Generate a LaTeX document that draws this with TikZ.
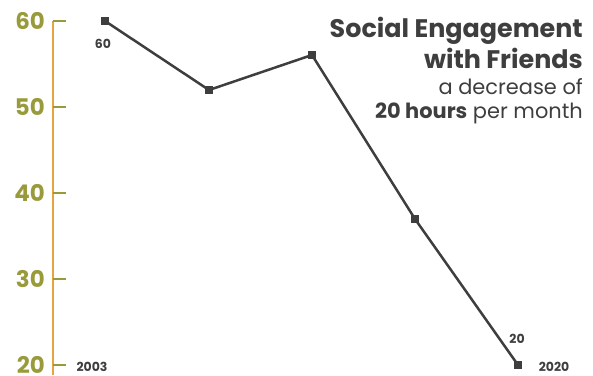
\documentclass[tikz,border=0pt]{standalone}
\usepackage{fontspec}
\setmainfont{Poppins}
\usetikzlibrary{positioning}
\definecolor{axisorange}{HTML}{E6A541}
\definecolor{axisgreen}{HTML}{999B3B}
\definecolor{inkgray}{HTML}{3E3E3E}

\begin{document}
\begin{tikzpicture}[x=1bp, y=-1bp]
    \tikzstyle{every node} = [inner sep=0pt, text=inkgray]
    \tikzstyle{tick} = [text=axisgreen, font=\bfseries\fontsize{23}{23}\selectfont, anchor=east]
    \tikzstyle{pt} = [rectangle, fill=inkgray, minimum size=7.5bp]
    \tikzstyle{val} = [font=\bfseries\fontsize{12.5}{12.5}\selectfont]
    \useasboundingbox (0,0) rectangle (593,375);

    \draw [axisorange, line width=1.3bp] (53,21) -- (53,375);
    \foreach \v/\y in {60/21, 50/107, 40/193, 30/279, 20/365} {
      \draw [axisgreen, line width=1.3bp] (53,\y) -- (66,\y);
      \node [tick] (t\v) at (45,\y) {\v};
    }

    \node [pt] (p1) at (105,21) {};
    \node [pt] (p2) at (209,90) {};
    \node [pt] (p3) at (312,55) {};
    \node [pt] (p4) at (415,219) {};
    \node [pt] (p5) at (518,365) {};
    \draw [inkgray, line width=2.5bp] (p1.center) -- (p2.center) -- (p3.center)
      -- (p4.center) -- (p5.center);

    \node [val] (v60) at (103,44) {60};
    \node [val] (v20) at (517,339) {20};
    \node [val] (y03) at (92,367) {2003};
    \node [val] (y20) at (554,367) {2020};

    \node [anchor=base east, font=\bfseries\fontsize{25.5}{25.5}\selectfont] (title1) at (583,37) {Social Engagement};
    \node [anchor=base east, font=\bfseries\fontsize{25.5}{25.5}\selectfont] (title2) at (583,68) {with Friends};
    \node [anchor=base east, font=\fontsize{21}{21}\selectfont] (sub1) at (583,94) {a decrease of};
    \node [anchor=base east, font=\fontsize{21}{21}\selectfont] (sub2) at (583,118) {\textbf{20 hours} per month};
\end{tikzpicture}
\end{document}
